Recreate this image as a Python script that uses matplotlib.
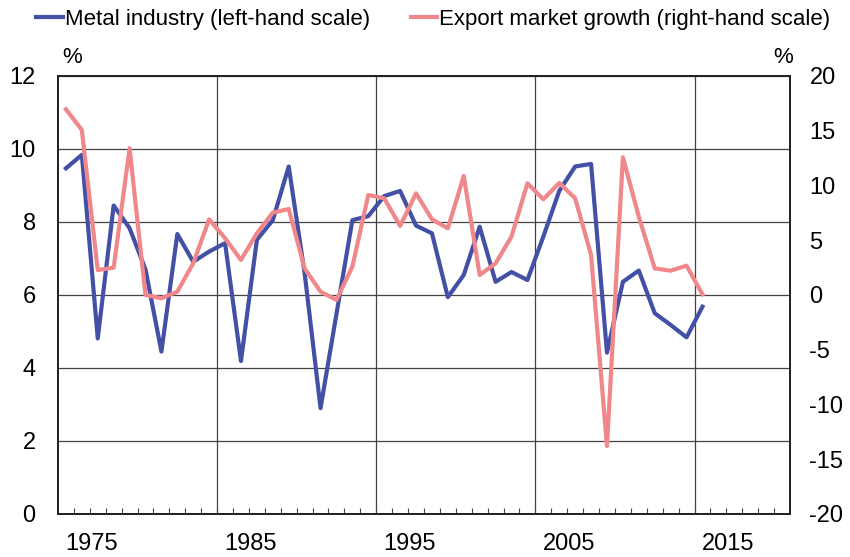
import matplotlib
matplotlib.use("Agg")
import matplotlib.pyplot as plt
import numpy as np

plt.rcParams['font.family'] = ['Liberation Sans', 'DejaVu Sans']
plt.rcParams['axes.unicode_minus'] = False

years = list(range(1974, 2015))
metal = [9.47, 9.84, 4.81, 8.45, 7.83, 6.7, 4.45, 7.67, 6.91, 7.19,
         7.42, 4.19, 7.51, 8.05, 9.52, 6.6, 2.9, 5.48, 8.05, 8.16,
         8.71, 8.85, 7.9, 7.69, 5.94, 6.55, 7.87, 6.36, 6.63, 6.41,
         7.6, 8.85, 9.52, 9.59, 4.42, 6.36, 6.67, 5.5, 5.18, 4.84, 5.68]
export = [16.96, 15.07, 2.28, 2.5, 13.4, 0.0, -0.3, 0.3, 2.9, 6.91,
          5.18, 3.2, 5.63, 7.52, 7.85, 2.43, 0.3, -0.45, 2.59, 9.13,
          8.83, 6.3, 9.28, 6.91, 6.09, 10.87, 1.83, 2.89, 5.33, 10.2,
          8.74, 10.23, 8.83, 3.65, -13.79, 12.57, 7.15, 2.43, 2.22, 2.68, 0.06]

tick_years = [1975, 1985, 1995, 2005, 2015]
left_ticks = [0, 2, 4, 6, 8, 10, 12]
right_ticks = [-20, -15, -10, -5, 0, 5, 10, 15, 20]

blue = '#4350A6'
pink = '#F0878B'

fig = plt.figure(figsize=(8.5, 5.57), dpi=100)
ax = fig.add_axes([0.0682, 0.0772, 0.8612, 0.7864])
ax2 = ax.twinx()

l1, = ax.plot(years, metal, color=blue, lw=3.0, label='Metal industry (left-hand scale)', zorder=3)
l2, = ax2.plot(years, export, color=pink, lw=3.0, label='Export market growth (right-hand scale)', zorder=3)

ax.set_xlim(1973.5, 2019.5)
ax.set_ylim(0, 12)
ax2.set_ylim(-20, 20)

ax.set_yticks(left_ticks)
ax2.set_yticks(right_ticks)
ax.yaxis.grid(True, color='#444444', lw=0.9)
for g in [1983.5, 1993.5, 2003.5, 2013.5]:
    ax.axvline(g, color='#444444', lw=0.9, zorder=1)

# year labels sit a bit right of the category centre, like the original
ax.set_xticks([y + 0.6 for y in tick_years])
ax.set_xticklabels([str(y) for y in tick_years])
ax.set_xticks(np.arange(1974.5, 2019.5, 1.0), minor=True)
ax.tick_params(axis='x', which='major', length=0, pad=14, labelsize=17)
ax.tick_params(axis='x', which='minor', direction='in', length=4, width=0.8, color='#444444')
ax.tick_params(axis='y', length=0, pad=16, labelsize=17)
ax2.tick_params(axis='y', length=0, pad=14, labelsize=17)

for a in (ax, ax2):
    for s in a.spines.values():
        s.set_color('#222222')
        s.set_linewidth(1.3)

fig.text(0.085, 0.897, '%', fontsize=16, ha='center', va='center')
fig.text(0.921, 0.897, '%', fontsize=16, ha='center', va='center')

fig.legend(handles=[l1, l2], loc='center', bbox_to_anchor=(0.51, 0.965), ncol=2,
           frameon=False, fontsize=16, handlelength=1.2, handletextpad=0.1,
           columnspacing=1.8)

fig.savefig('out.png', dpi=100)
